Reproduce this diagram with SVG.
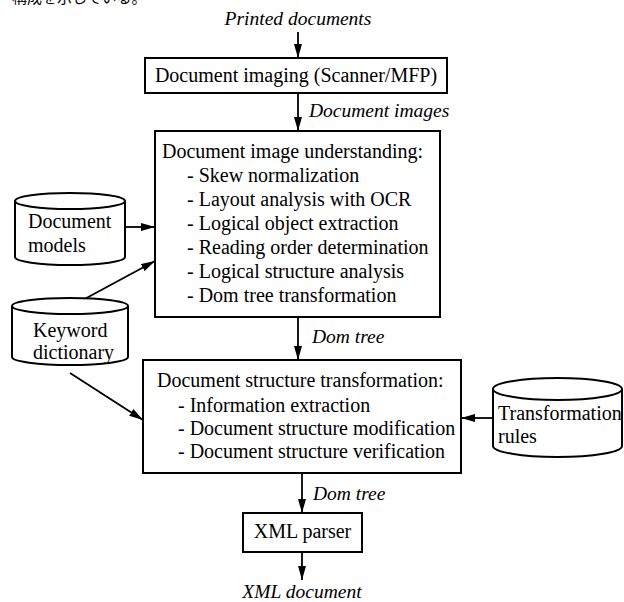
<svg xmlns="http://www.w3.org/2000/svg" width="624" height="602" viewBox="0 0 624 602">
<style>
.box{fill:#fff;stroke:#000;stroke-width:2}
.cyl{fill:#fff;stroke:#000;stroke-width:2}
.t{font-size:20px;fill:#000}
.i{font-size:19.5px;font-style:italic;fill:#000}
.c{stroke:#000;stroke-width:1.8;fill:none;marker-end:url(#ah)}
</style>
<defs>
<marker id="ah" viewBox="0 0 14 8" refX="14" refY="4" markerWidth="14" markerHeight="8" markerUnits="userSpaceOnUse" orient="auto">
<path d="M0,0 L14,4 L0,8 Z" fill="#000"/>
</marker>
</defs>
<rect width="624" height="602" fill="#fff"/>
<text x="12" y="3" font-family="Noto Sans CJK JP, sans-serif" font-size="15">構成を示している。</text>

<g font-family="Liberation Serif, DejaVu Serif, serif">
<g id="connectors">
<line class="c" x1="298" y1="32" x2="298" y2="58"/>
<line class="c" x1="298" y1="93" x2="298" y2="131"/>
<line class="c" x1="298" y1="317" x2="298" y2="360"/>
<line class="c" x1="302" y1="473" x2="302" y2="513"/>
<line class="c" x1="302" y1="552" x2="302" y2="580"/>
<line class="c" x1="125" y1="227" x2="155" y2="227"/>
<line class="c" x1="68" y1="308" x2="155" y2="261"/>
<line class="c" x1="70" y1="373" x2="143" y2="420"/>
<line class="c" x1="493" y1="418" x2="461" y2="418"/>
<text class="i" x="309" y="117">Document images</text>
<text class="i" x="312" y="343">Dom tree</text>
<text class="i" x="313" y="500">Dom tree</text>
</g>

<g id="printed">
<text class="i" x="298" y="25" text-anchor="middle">Printed documents</text>
</g>

<g id="imaging">
<rect class="box" x="145" y="58" width="302" height="35"/>
<text class="t" x="296" y="82" text-anchor="middle">Document imaging (Scanner/MFP)</text>
</g>

<g id="understanding">
<rect class="box" x="155" y="131" width="285" height="186"/>
<text class="t" x="162" y="158">Document image understanding:</text>
<text class="t" x="187" y="182">- Skew normalization</text>
<text class="t" x="187" y="206">- Layout analysis with OCR</text>
<text class="t" x="187" y="230">- Logical object extraction</text>
<text class="t" x="187" y="254">- Reading order determination</text>
<text class="t" x="187" y="278">- Logical structure analysis</text>
<text class="t" x="187" y="302">- Dom tree transformation</text>
</g>

<g id="models">
<path class="cyl" d="M15,201 L15,257 A55,8 0 0 0 125,257 L125,201 A55,8 0 0 0 15,201 Z"/>
<path class="cyl" d="M15,201 A55,8 0 0 0 125,201" fill="none"/>
<text class="t" x="28" y="228">Document</text>
<text class="t" x="28" y="252">models</text>
</g>

<g id="keyword">
<path class="cyl" d="M12,306 L12,357 A58,8 0 0 0 128,357 L128,306 A58,8 0 0 0 12,306 Z"/>
<path class="cyl" d="M12,306 A58,8 0 0 0 128,306" fill="none"/>
<text class="t" x="33" y="337">Keyword</text>
<text class="t" x="33" y="359">dictionary</text>
</g>

<g id="transformation">
<rect class="box" x="143" y="360" width="318" height="113"/>
<text class="t" x="157" y="387">Document structure transformation:</text>
<text class="t" x="178" y="412">- Information extraction</text>
<text class="t" x="178" y="435">- Document structure modification</text>
<text class="t" x="178" y="458">- Document structure verification</text>
</g>

<g id="rules">
<path class="cyl" d="M493,389 L493,446 A64.5,11 0 0 0 622,446 L622,389 A64.5,11 0 0 0 493,389 Z"/>
<path class="cyl" d="M493,389 A64.5,11 0 0 0 622,389" fill="none"/>
<text class="t" x="498" y="420">Transformation</text>
<text class="t" x="498" y="443">rules</text>
</g>

<g id="parser">
<rect class="box" x="243" y="513" width="119" height="39"/>
<text class="t" x="302.5" y="538" text-anchor="middle">XML parser</text>
</g>

<g id="xmldoc">
<text class="i" x="302" y="598" text-anchor="middle">XML document</text>
</g>
</g>
</svg>
